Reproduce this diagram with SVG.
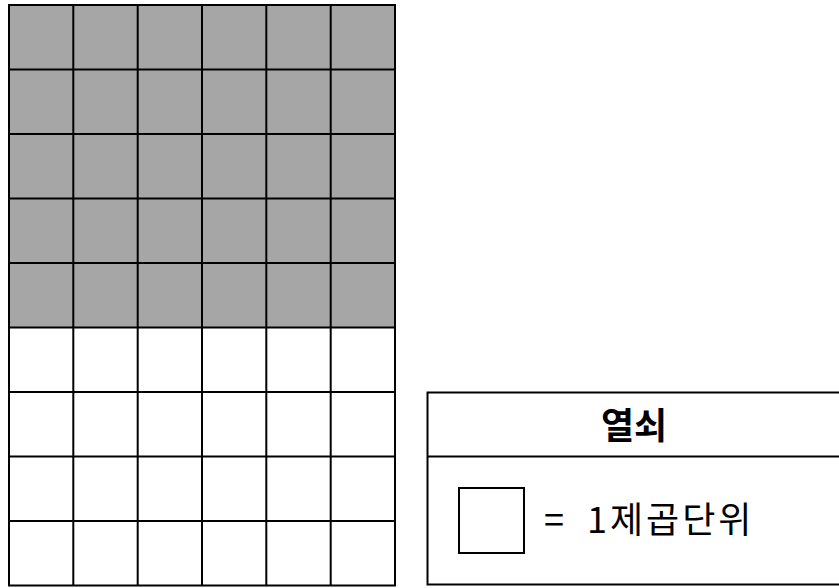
<svg xmlns="http://www.w3.org/2000/svg" width="839" height="588" viewBox="0 0 839 588">
<style>
.ln{stroke:#000;stroke-width:2;fill:none}
.t{font-family:"Noto Sans CJK KR","Noto Sans",sans-serif;fill:#000}
</style>
<rect width="839" height="588" fill="#fff"/>
<g id="grid">
<rect x="9" y="5" width="386" height="322.5" fill="#a6a6a6"/>
<rect class="ln" x="9" y="5" width="386" height="580.5"/>
<path class="ln" d="M73.3,5V585.5M137.7,5V585.5M202,5V585.5M266.3,5V585.5M330.7,5V585.5
M9,69.5H395M9,134H395M9,198.5H395M9,263H395M9,327.5H395M9,392H395M9,456.5H395M9,521H395"/>
</g>
<g id="legend">
<rect class="ln" x="427.5" y="392.5" width="420" height="192"/>
<line class="ln" x1="427.5" y1="456.5" x2="839" y2="456.5"/>
<text class="t" x="634" y="439" font-size="36" font-weight="bold" text-anchor="middle">열쇠</text>
<rect class="ln" x="459" y="488" width="65" height="65"/>
<text class="t" y="533" font-size="36"><tspan x="544">=</tspan><tspan x="587" letter-spacing="3">1제곱단위</tspan></text>
</g>
</svg>
